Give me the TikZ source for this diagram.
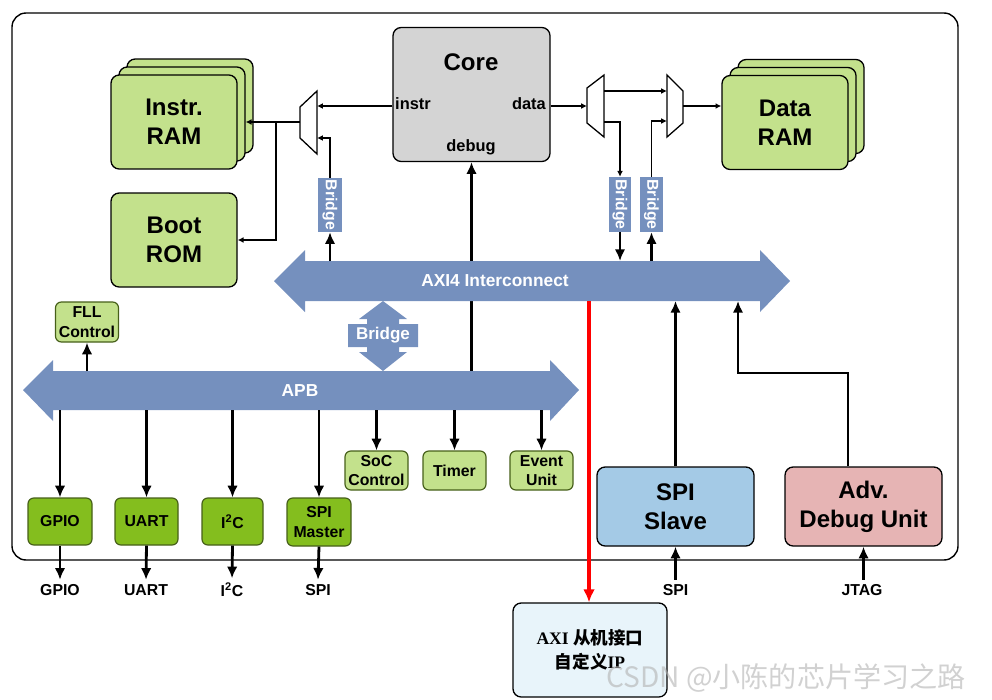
\documentclass[tikz,border=0pt]{standalone}
\usepackage{fontspec}
\setmainfont{Liberation Sans}
\newfontfamily\cjk{Noto Sans CJK SC}
\newfontfamily\tms{Liberation Serif}
\usetikzlibrary{arrows.meta}
\definecolor{busblue}{RGB}{117,144,190}
\definecolor{ramgreen}{RGB}{195,225,140}
\definecolor{ipgreen}{RGB}{132,190,30}
\definecolor{ipborder}{RGB}{70,95,25}
\definecolor{coregray}{RGB}{212,212,212}
\definecolor{spiblue}{RGB}{164,202,230}
\definecolor{advpink}{RGB}{230,180,180}
\definecolor{custblue}{RGB}{232,244,250}
\begin{document}
\begin{tikzpicture}[x=0.03cm, y=-0.03cm,
  every node/.style={font=\bfseries},
  sz/.style 2 args={minimum width=#1*0.03cm, minimum height=#2*0.03cm},
  bigbox/.style={draw=black, line width=1.1pt, rounded corners=7pt, align=center, inner sep=0pt,
    font=\bfseries\fontsize{20.5}{24.5}\selectfont},
  ram/.style={bigbox, fill=ramgreen, sz={126}{94}},
  smallbox/.style={draw=ipborder, line width=1pt, rounded corners=5pt, align=center, inner sep=0pt,
    font=\bfseries\fontsize{13.5}{16.5}\selectfont},
  lightip/.style={smallbox, fill=ramgreen, sz={63}{39}},
  darkip/.style={smallbox, fill=ipgreen, sz={63}{47}},
  vbridge/.style={fill=busblue, text=white, inner sep=0pt, rotate=-90,
    font=\bfseries\fontsize{13.5}{14}\selectfont},
  pinlbl/.style={inner sep=0pt, outer sep=4pt, font=\bfseries\fontsize{13.5}{14}\selectfont},
  thinarr/.style={line width=1.1pt, -{Latex[length=5pt,width=5pt]}},
  thickarr/.style={line width=2.4pt, -{Latex[length=10pt,width=9pt]}}
]
\useasboundingbox (0,0) rectangle (992,699);
\draw [black, line width=1.2pt, rounded corners=12pt] (12,13) rectangle (958,560);

\node [bigbox, fill=coregray, sz={157}{134}] (core) at (471.5,94.5) {};
\node (corelbl) at (471,62) {\fontsize{20.5}{24}\selectfont Core};
\node [anchor=west, inner sep=0pt] (instrlbl) at (395,104) {\fontsize{14}{16}\selectfont instr};
\node [anchor=east, inner sep=0pt] (datalbl) at (546,104) {\fontsize{14}{16}\selectfont data};
\node [inner sep=0pt] (debuglbl) at (471,147) {\fontsize{14}{16}\selectfont debug};

\node [ram] (iramb) at (190,106) {};
\node [ram] (irama) at (182,114) {};
\node [ram] (iram) at (174,122) {Instr.\\RAM};
\node [ram] (brom) at (174,240) {Boot\\ROM};
\node [ram] (dramb) at (801,106.5) {};
\node [ram] (drama) at (793,114.5) {};
\node [ram] (dram) at (785,122.5) {Data\\RAM};

\draw [black, line width=1.1pt, fill=white] (317,91) -- (317,154) -- (300,138) -- (300,107) -- cycle;
\draw [black, line width=1.1pt, fill=white] (587,88) -- (604,75) -- (604,137) -- (587,123) -- cycle;
\draw [black, line width=1.1pt, fill=white] (667,75) -- (683,91) -- (683,123) -- (667,137) -- cycle;
\coordinate (mlout) at (300,122);
\coordinate (mlin1) at (317,106);
\coordinate (mlin2) at (317,138);
\coordinate (jn) at (276,122);
\coordinate (maout1) at (604,91);
\coordinate (maout2) at (604,122);
\coordinate (main) at (587,106);
\coordinate (mbin1) at (667,91);
\coordinate (mbin2) at (667,121);
\coordinate (mbout) at (683,106);

\node [vbridge, sz={54}{24}] (brl) at (330,205) {Bridge};
\node [vbridge, sz={55}{22}] (brr1) at (620,204.5) {Bridge};
\node [vbridge, sz={55}{23}] (brr2) at (651.5,204.5) {Bridge};

\draw [thinarr] (core.west |- mlin1) -- (mlin1);
\draw [thinarr] (mlout) -- (irama.east |- mlout);
\draw [thinarr] (jn) |- (brom.east);
\draw [thinarr] (brl.west) |- (mlin2);
\draw [thinarr] (core.east |- main) -- (main);
\draw [thinarr] (maout1) -- (mbin1);
\draw [thinarr] (maout2) -| (brr1.west);
\draw [thinarr] (brr2.west) |- (mbin2);
\draw [thinarr] (mbout) -- (dram.west |- mbout);

\coordinate (axitop) at (0,261);
\coordinate (axibot) at (0,301);
\coordinate (apbtop) at (0,371);
\coordinate (apbbot) at (0,410);

\draw [thickarr] (core.south |- apbtop) -- (core.south);

\fill [busblue] (274,281) -- (305,250) -- (305,261) -- (760,261) -- (760,250) -- (790,281)
  -- (760,312) -- (760,301) -- (305,301) -- (305,312) -- cycle;
\node [text=white, font=\bfseries\fontsize{14.8}{16}\selectfont] (axi) at (495,281) {AXI4 Interconnect};
\fill [busblue] (23,390) -- (53,360) -- (53,371) -- (550,371) -- (550,360) -- (579,390)
  -- (550,421) -- (550,410) -- (53,410) -- (53,421) -- cycle;
\node [text=white, font=\bfseries\fontsize{14.8}{16}\selectfont] (apb) at (300,391) {APB};
\fill [busblue] (383,301) -- (407,319) -- (399,319) -- (399,324) -- (418,324) -- (418,347)
  -- (399,347) -- (399,352) -- (407,352) -- (383,371) -- (359,352) -- (367,352) -- (367,347)
  -- (348,347) -- (348,324) -- (367,324) -- (367,319) -- (359,319) -- cycle;
\node [text=white, font=\bfseries\fontsize{14.5}{16}\selectfont] (midbr) at (383,335.5) {Bridge};

\draw [thickarr] (brl.east |- axitop) -- (brl.east);
\draw [thickarr] (brr1.east) -- (brr1.east |- axitop);
\draw [thickarr] (brr2.east |- axitop) -- (brr2.east);

\node [lightip, sz={63}{40}] (fll) at (87,322) {FLL\\Control};
\node [darkip, sz={64}{47}] (gpio) at (60,521.5) {GPIO};
\node [darkip] (uart) at (146.5,521.5) {UART};
\node [darkip, sz={61}{47}] (iic) at (232.5,521.5) {I\textsuperscript{2}C};
\node [darkip, sz={64}{48}] (spim) at (319,522) {SPI\\Master};
\node [lightip] (soc) at (376.5,470.5) {SoC\\Control};
\node [lightip] (timer) at (454.5,470.5) {Timer};
\node [lightip] (evu) at (541.5,470.5) {Event\\Unit};

\draw [thickarr] (fll.south |- apbtop) -- (fll.south);
\foreach \ip in {gpio,uart,iic,spim,soc,timer,evu}
  \draw [thickarr] (\ip.north |- apbbot) -- (\ip.north);

\node [pinlbl] (lgpio) at (60,590) {GPIO};
\node [pinlbl] (luart) at (146,590) {UART};
\node [pinlbl] (liic) at (232,590) {I\textsuperscript{2}C};
\node [pinlbl] (lspi) at (318,590) {SPI};
\draw [thickarr] (gpio.south) -- (lgpio.north);
\draw [thickarr] (uart.south) -- (luart.north);
\draw [thickarr] (iic.south) -- (liic.north);
\draw [thickarr] (spim.south) -- (lspi.north);

\node [bigbox, fill=spiblue, sz={157}{79}] (spis) at (675.5,506.5) {SPI\\Slave};
\node [bigbox, fill=advpink, sz={157}{79}] (adv) at (863.5,506.5) {Adv.\\Debug Unit};
\node [pinlbl] (lspis) at (675.5,590) {SPI};
\node [pinlbl] (ljtag) at (862,590) {JTAG};
\coordinate (advbend) at (848,373);
\coordinate (axiadv) at (738,301);
\draw [thickarr] (spis.north) -- (spis.north |- axibot);
\draw [thickarr] (adv.north -| advbend) -- (advbend) -| (axiadv);
\draw [thickarr] (lspis.north) -- (spis.south);
\draw [thickarr] (ljtag.north -| adv.south) -- (adv.south);

\node [draw=black, line width=1.1pt, fill=custblue, rounded corners=7pt, sz={154}{94}, align=center,
  font=\bfseries\fontsize{15}{21}\selectfont] (cust) at (590,650) {\tms AXI {\cjk 从机接口}\\{\cjk 自定义}\tms IP};
\coordinate (axired) at (589,301);
\draw [red, line width=3.4pt, -{Latex[length=11pt,width=10pt]}] (axired) -- (axired |- cust.north);

\node [text=gray!60, opacity=0.6, font=\cjk\fontsize{24}{26}\selectfont] (wm) at (786,678) {CSDN @小陈的芯片学习之路};
\end{tikzpicture}
\end{document}
